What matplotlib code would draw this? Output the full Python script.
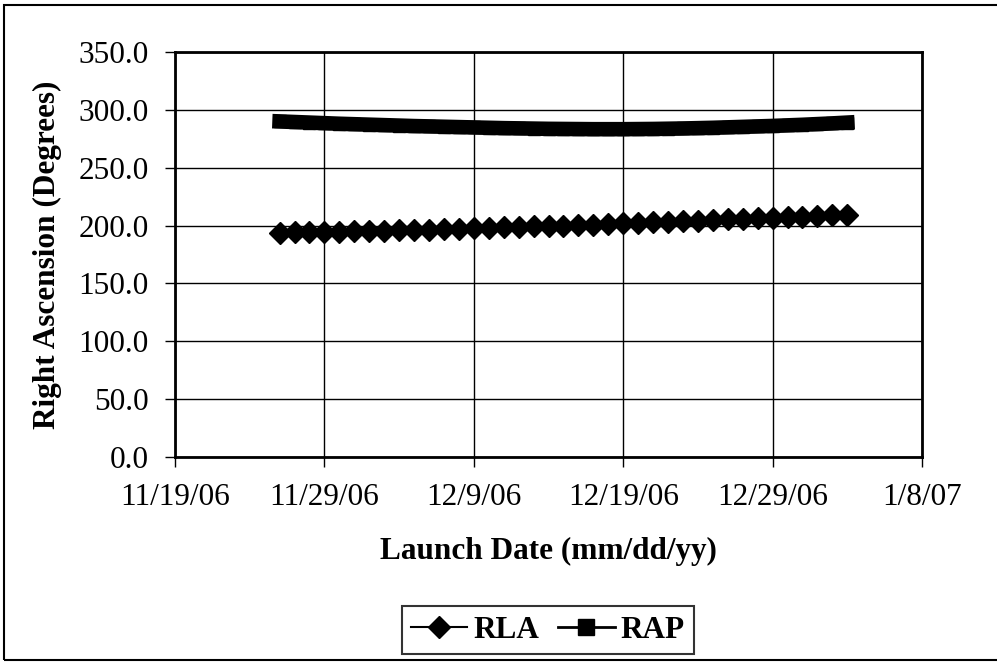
import datetime as dt
import matplotlib
matplotlib.use("Agg")
import matplotlib.pyplot as plt
from matplotlib.patches import Rectangle

plt.rcParams['font.family'] = 'Liberation Serif'

# Daily launch dates
start = dt.date(2006, 11, 26)
dates = [start + dt.timedelta(days=i) for i in range(39)]

# Right ascension of launch (RLA) in degrees
rla = [194.0, 194.2, 194.4, 194.6, 194.8, 195.0, 195.3, 195.6, 195.9, 196.2,
       196.5, 196.8, 197.2, 197.6, 198.0, 198.4, 198.8, 199.2, 199.6, 200.0,
       200.4, 200.8, 201.3, 201.8, 202.3, 202.8, 203.3, 203.8, 204.3, 204.8,
       205.3, 205.8, 206.3, 206.8, 207.3, 207.8, 208.3, 208.8, 209.4]

# Right ascension of perigee (RAP) in degrees
rap = [290.0, 289.5, 289.0, 288.5, 288.0, 287.6, 287.2, 286.8, 286.4, 286.0,
       285.7, 285.4, 285.1, 284.8, 284.5, 284.2, 284.0, 283.8, 283.6, 283.5,
       283.4, 283.3, 283.3, 283.3, 283.4, 283.5, 283.7, 283.9, 284.2, 284.5,
       284.9, 285.3, 285.7, 286.1, 286.6, 287.1, 287.7, 288.3, 289.0]

tick_dates = [dt.date(2006, 11, 19), dt.date(2006, 11, 29), dt.date(2006, 12, 9),
              dt.date(2006, 12, 19), dt.date(2006, 12, 29), dt.date(2007, 1, 8)]
tick_labels = ['11/19/06', '11/29/06', '12/9/06', '12/19/06', '12/29/06', '1/8/07']

fs = 22.5

fig = plt.figure(figsize=(9.97, 6.62), dpi=100)
ax = fig.add_axes([175/997, 1-457/662, (922-175)/997, (457-52)/662])

ax.plot(dates, rla, color='black', lw=1.5, marker='D', markersize=11, label='RLA')
ax.plot(dates, rap, color='black', lw=10.5, solid_capstyle='projecting',
        marker='s', markersize=8, label='RAP')

ax.set_xlim(tick_dates[0], tick_dates[-1])
ax.set_ylim(0, 350)
ax.set_xticks(tick_dates)
ax.set_xticklabels(tick_labels)
ax.set_yticks(range(0, 351, 50))
ax.set_yticklabels([f'{v:.1f}' for v in range(0, 351, 50)])
ax.grid(True, color='black', lw=1)
ax.set_axisbelow(True)
for s in ax.spines.values():
    s.set_linewidth(2)
ax.tick_params(axis='both', labelsize=fs, direction='out', length=7, width=1, color='black')
ax.tick_params(axis='x', pad=12)
ax.tick_params(axis='y', pad=12)

ax.set_xlabel('Launch Date (mm/dd/yy)', fontsize=fs, fontweight='bold', labelpad=18)
ax.set_ylabel('Right Ascension (Degrees)', fontsize=fs, fontweight='bold', labelpad=12)

leg = fig.legend(loc='center', bbox_to_anchor=(548/997, 1-630/662), ncol=2,
                 frameon=True, fancybox=False, edgecolor='black',
                 handlelength=1.8, columnspacing=0.6, handletextpad=0.2,
                 borderpad=0.3, prop={'weight': 'bold', 'size': fs})
leg.get_frame().set_linewidth(1.5)
leg.legend_handles[1].set_linewidth(2)
leg.legend_handles[1].set_markersize(12)

# outer border around the whole chart
fig.patches.append(Rectangle((4/997, 2/662), 1.0, 1-7/662, transform=fig.transFigure,
                             fill=False, edgecolor='black', lw=1.5))

fig.savefig('out.png', dpi=100)
